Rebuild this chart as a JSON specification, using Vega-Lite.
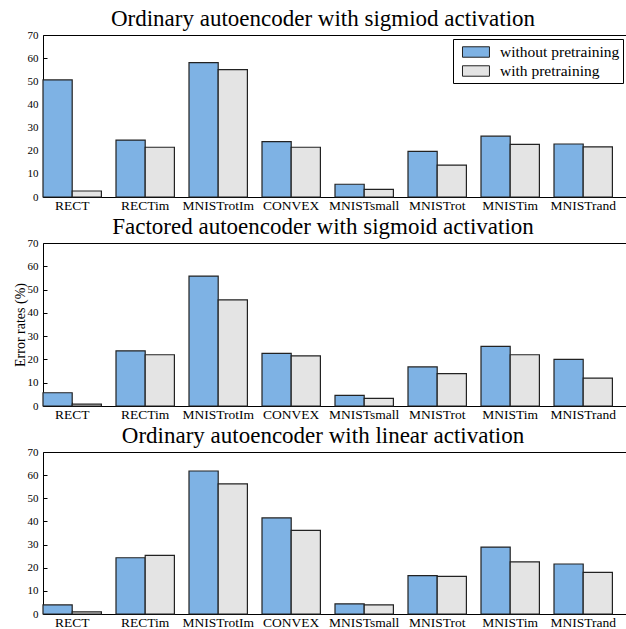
{
  "$schema": "https://vega.github.io/schema/vega-lite/v6.json",
  "background": "white",
  "padding": {"left": 12, "top": 7, "right": 0, "bottom": 0},
  "spacing": 3,
  "config": {
    "font": "Liberation Serif",
    "view": {"stroke": "black", "strokeWidth": 1},
    "axis": {"domainColor": "black", "tickColor": "black", "labelColor": "black", "titleColor": "black", "labelFont": "Liberation Serif", "titleFont": "Liberation Serif", "grid": false},
    "title": {"font": "Liberation Serif", "fontSize": 23, "fontWeight": "normal", "color": "black", "offset": -2, "dx": -12},
    "legend": {"labelFont": "Liberation Serif"}
  },
  "data": {"values": [
    {"panel": 1, "dataset": "RECT", "cond": "without pretraining", "value": 50.6},
    {"panel": 1, "dataset": "RECT", "cond": "with pretraining", "value": 2.6},
    {"panel": 1, "dataset": "RECTim", "cond": "without pretraining", "value": 24.6},
    {"panel": 1, "dataset": "RECTim", "cond": "with pretraining", "value": 21.5},
    {"panel": 1, "dataset": "MNISTrotIm", "cond": "without pretraining", "value": 58.1},
    {"panel": 1, "dataset": "MNISTrotIm", "cond": "with pretraining", "value": 55.0},
    {"panel": 1, "dataset": "CONVEX", "cond": "without pretraining", "value": 23.9},
    {"panel": 1, "dataset": "CONVEX", "cond": "with pretraining", "value": 21.5},
    {"panel": 1, "dataset": "MNISTsmall", "cond": "without pretraining", "value": 5.5},
    {"panel": 1, "dataset": "MNISTsmall", "cond": "with pretraining", "value": 3.3},
    {"panel": 1, "dataset": "MNISTrot", "cond": "without pretraining", "value": 19.7},
    {"panel": 1, "dataset": "MNISTrot", "cond": "with pretraining", "value": 13.8},
    {"panel": 1, "dataset": "MNISTim", "cond": "without pretraining", "value": 26.3},
    {"panel": 1, "dataset": "MNISTim", "cond": "with pretraining", "value": 22.7},
    {"panel": 1, "dataset": "MNISTrand", "cond": "without pretraining", "value": 22.9},
    {"panel": 1, "dataset": "MNISTrand", "cond": "with pretraining", "value": 21.7},
    {"panel": 2, "dataset": "RECT", "cond": "without pretraining", "value": 5.7},
    {"panel": 2, "dataset": "RECT", "cond": "with pretraining", "value": 0.8},
    {"panel": 2, "dataset": "RECTim", "cond": "without pretraining", "value": 23.7},
    {"panel": 2, "dataset": "RECTim", "cond": "with pretraining", "value": 22.0},
    {"panel": 2, "dataset": "MNISTrotIm", "cond": "without pretraining", "value": 55.8},
    {"panel": 2, "dataset": "MNISTrotIm", "cond": "with pretraining", "value": 45.6},
    {"panel": 2, "dataset": "CONVEX", "cond": "without pretraining", "value": 22.6},
    {"panel": 2, "dataset": "CONVEX", "cond": "with pretraining", "value": 21.5},
    {"panel": 2, "dataset": "MNISTsmall", "cond": "without pretraining", "value": 4.6},
    {"panel": 2, "dataset": "MNISTsmall", "cond": "with pretraining", "value": 3.3},
    {"panel": 2, "dataset": "MNISTrot", "cond": "without pretraining", "value": 16.8},
    {"panel": 2, "dataset": "MNISTrot", "cond": "with pretraining", "value": 13.9},
    {"panel": 2, "dataset": "MNISTim", "cond": "without pretraining", "value": 25.6},
    {"panel": 2, "dataset": "MNISTim", "cond": "with pretraining", "value": 22.0},
    {"panel": 2, "dataset": "MNISTrand", "cond": "without pretraining", "value": 20.0},
    {"panel": 2, "dataset": "MNISTrand", "cond": "with pretraining", "value": 12.0},
    {"panel": 3, "dataset": "RECT", "cond": "without pretraining", "value": 3.9},
    {"panel": 3, "dataset": "RECT", "cond": "with pretraining", "value": 0.9},
    {"panel": 3, "dataset": "RECTim", "cond": "without pretraining", "value": 24.3},
    {"panel": 3, "dataset": "RECTim", "cond": "with pretraining", "value": 25.3},
    {"panel": 3, "dataset": "MNISTrotIm", "cond": "without pretraining", "value": 61.8},
    {"panel": 3, "dataset": "MNISTrotIm", "cond": "with pretraining", "value": 56.2},
    {"panel": 3, "dataset": "CONVEX", "cond": "without pretraining", "value": 41.5},
    {"panel": 3, "dataset": "CONVEX", "cond": "with pretraining", "value": 36.1},
    {"panel": 3, "dataset": "MNISTsmall", "cond": "without pretraining", "value": 4.4},
    {"panel": 3, "dataset": "MNISTsmall", "cond": "with pretraining", "value": 3.9},
    {"panel": 3, "dataset": "MNISTrot", "cond": "without pretraining", "value": 16.6},
    {"panel": 3, "dataset": "MNISTrot", "cond": "with pretraining", "value": 16.3},
    {"panel": 3, "dataset": "MNISTim", "cond": "without pretraining", "value": 28.9},
    {"panel": 3, "dataset": "MNISTim", "cond": "with pretraining", "value": 22.5},
    {"panel": 3, "dataset": "MNISTrand", "cond": "without pretraining", "value": 21.6},
    {"panel": 3, "dataset": "MNISTrand", "cond": "with pretraining", "value": 18.0}
  ]},
  "vconcat": [
    {
      "title": "Ordinary autoencoder with sigmiod activation",
      "width": 584, "height": 162,
      "transform": [{"filter": "datum.panel == 1"}],
      "mark": {"type": "bar", "stroke": "#222222", "strokeWidth": 1.2},
      "encoding": {
        "x": {"field": "dataset", "type": "nominal", "sort": ["RECT","RECTim","MNISTrotIm","CONVEX","MNISTsmall","MNISTrot","MNISTim","MNISTrand"],
              "scale": {"paddingInner": 0.2, "paddingOuter": 0.1, "align": 0},
              "axis": {"title": null, "labelAngle": 0, "labelFontSize": 13.5, "tickSize": -4, "labelPadding": 5, "domain": false}},
        "xOffset": {"field": "cond", "type": "nominal", "sort": ["without pretraining", "with pretraining"], "scale": {"paddingInner": 0, "paddingOuter": 0}},
        "y": {"field": "value", "type": "quantitative", "scale": {"domain": [0, 70], "nice": false},
              "axis": {"title": null, "values": [0,10,20,30,40,50,60,70], "labelFontSize": 11, "tickSize": -4, "labelPadding": 9, "domain": false}},
        "color": {"field": "cond", "type": "nominal", "sort": ["without pretraining", "with pretraining"],
                  "scale": {"domain": ["without pretraining", "with pretraining"], "range": ["#7EB2E4", "#E4E4E4"]},
                  "legend": {"title": null, "orient": "top-right", "offset": 4, "labelFontSize": 15.5, "strokeColor": "black", "fillColor": "white", "padding": 3, "rowPadding": 0, "symbolType": "M-0.37,-0.55H2.47V0.55H-0.37Z", "symbolSize": 361, "symbolStrokeColor": "#222222", "symbolStrokeWidth": 1, "labelOffset": 24, "cornerRadius": 0}}
      }
    },
    {
      "title": "Factored autoencoder with sigmoid activation",
      "width": 584, "height": 163,
      "transform": [{"filter": "datum.panel == 2"}],
      "mark": {"type": "bar", "stroke": "#222222", "strokeWidth": 1.2},
      "encoding": {
        "x": {"field": "dataset", "type": "nominal", "sort": ["RECT","RECTim","MNISTrotIm","CONVEX","MNISTsmall","MNISTrot","MNISTim","MNISTrand"],
              "scale": {"paddingInner": 0.2, "paddingOuter": 0.1, "align": 0},
              "axis": {"title": null, "labelAngle": 0, "labelFontSize": 13.5, "tickSize": -4, "labelPadding": 5, "domain": false}},
        "xOffset": {"field": "cond", "type": "nominal", "sort": ["without pretraining", "with pretraining"], "scale": {"paddingInner": 0, "paddingOuter": 0}},
        "y": {"field": "value", "type": "quantitative", "scale": {"domain": [0, 70], "nice": false},
              "axis": {"title": "Error rates (%)", "titleFontSize": 14, "titleFontWeight": "normal", "titlePadding": 0, "values": [0,10,20,30,40,50,60,70], "labelFontSize": 11, "tickSize": -4, "labelPadding": 9, "domain": false}},
        "color": {"field": "cond", "type": "nominal", "scale": {"domain": ["without pretraining", "with pretraining"], "range": ["#7EB2E4", "#E4E4E4"]}, "legend": null}
      }
    },
    {
      "title": "Ordinary autoencoder with linear activation",
      "width": 584, "height": 162,
      "transform": [{"filter": "datum.panel == 3"}],
      "mark": {"type": "bar", "stroke": "#222222", "strokeWidth": 1.2},
      "encoding": {
        "x": {"field": "dataset", "type": "nominal", "sort": ["RECT","RECTim","MNISTrotIm","CONVEX","MNISTsmall","MNISTrot","MNISTim","MNISTrand"],
              "scale": {"paddingInner": 0.2, "paddingOuter": 0.1, "align": 0},
              "axis": {"title": null, "labelAngle": 0, "labelFontSize": 13.5, "tickSize": -4, "labelPadding": 5, "domain": false}},
        "xOffset": {"field": "cond", "type": "nominal", "sort": ["without pretraining", "with pretraining"], "scale": {"paddingInner": 0, "paddingOuter": 0}},
        "y": {"field": "value", "type": "quantitative", "scale": {"domain": [0, 70], "nice": false},
              "axis": {"title": null, "values": [0,10,20,30,40,50,60,70], "labelFontSize": 11, "tickSize": -4, "labelPadding": 9, "domain": false}},
        "color": {"field": "cond", "type": "nominal", "scale": {"domain": ["without pretraining", "with pretraining"], "range": ["#7EB2E4", "#E4E4E4"]}, "legend": null}
      }
    }
  ],
  "resolve": {"scale": {"color": "shared"}}
}
